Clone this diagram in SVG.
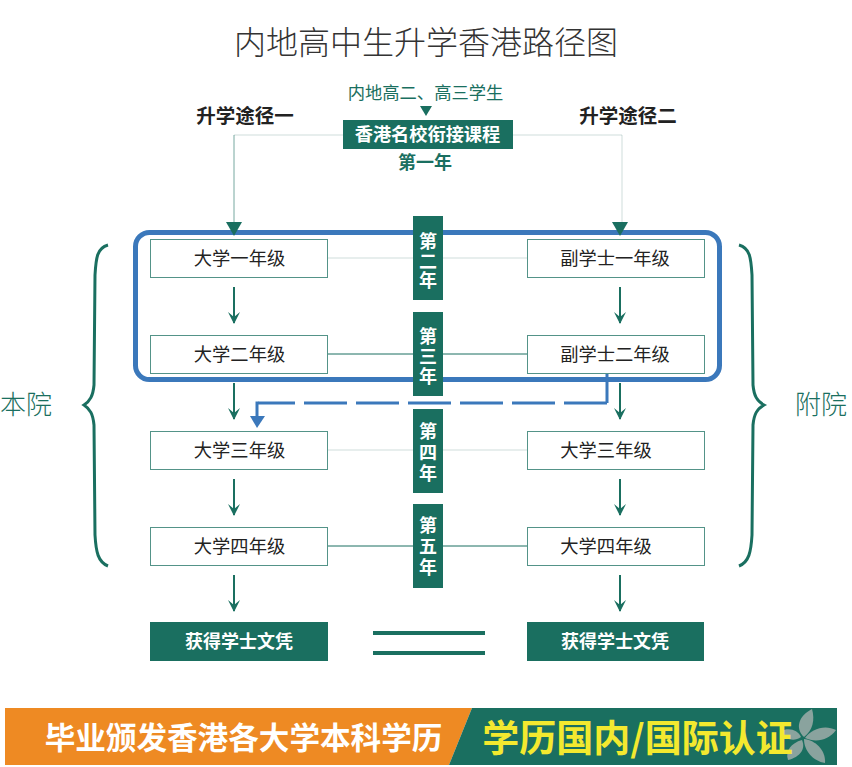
<svg xmlns="http://www.w3.org/2000/svg" width="852" height="767" viewBox="0 0 852 767">
<style>
text{font-family:"Noto Sans CJK SC","Liberation Sans",sans-serif;text-anchor:middle}
.box{fill:#fff;stroke:#1a6f60;stroke-width:1;stroke-opacity:.75}
.lbl{font-size:18.300px;fill:#222}
.fill{fill:#1a6f60}
.w{fill:#fff;font-weight:700}
.yr{font-size:18px}
.g{fill:#1a6f60}
.hd{font-size:19.500px;font-weight:700;fill:#222}
.lt{font-weight:300}
.arr{stroke:#1a6f60;stroke-width:2;fill:none;marker-end:url(#barb)}
.thin{stroke:#1a6f60;stroke-width:1;fill:none}
.pale{stroke:#5f8f86;stroke-width:1;stroke-opacity:.3;fill:none}
.brace{fill:none;stroke:#1a6f60;stroke-width:3}
.petal{fill:#8aa39e}
</style>
<defs>
<marker id="barb" markerUnits="userSpaceOnUse" markerWidth="14" markerHeight="12" refX="13" refY="6" orient="auto" viewBox="0 0 14 12">
<path d="M2 0 L7 6 L2 12 L14 6Z" fill="#1a6f60"/>
</marker>
</defs>
<rect width="852" height="767" fill="#fff"/>
<text x="426" y="54" font-size="32" class="lt" fill="#333">内地高中生升学香港路径图</text>
<g id="connectors">
<path class="pale" d="M343 135H234"/>
<path class="thin" d="M234 135V224" style="stroke-opacity:.6"/>
<path class="pale" d="M513 135H622V224"/>
<path class="pale" d="M328 258H413M443 258H527"/>
<path class="thin" d="M328 354H413M443 354H527"/>
<path class="pale" d="M328 450H413M443 450H527"/>
<path class="thin" d="M328 546H413M443 546H527"/>
<path class="arr" d="M234 287V323"/><path class="arr" d="M234 383V419"/><path class="arr" d="M234 479V515"/><path class="arr" d="M234 575V611"/>
<path class="arr" d="M620 287V323"/><path class="arr" d="M620 383V419"/><path class="arr" d="M620 479V515"/><path class="arr" d="M620 575V611"/>
<path d="M420 106H432L426 116Z" class="fill"/>
<path d="M373 633H485M373 653H485" stroke="#1a6f60" stroke-width="4" fill="none"/>
</g>
<g id="highlight"><rect x="135.500" y="232.500" width="584" height="147" rx="14" fill="none" stroke="#3b78bb" stroke-width="5"/></g>
<g id="arrowheads-top">
<path d="M226 222H242L234 236Z" class="fill"/>
<path d="M612 222H628L620 236Z" class="fill"/>
</g>
<g id="node-left-1"><rect class="box" x="150.500" y="239.500" width="177" height="38"/><text class="lbl" x="239.500" y="265">大学一年级</text></g>
<g id="node-left-2"><rect class="box" x="150.500" y="335.500" width="177" height="38"/><text class="lbl" x="239.500" y="361">大学二年级</text></g>
<g id="node-left-3"><rect class="box" x="150.500" y="431.500" width="177" height="38"/><text class="lbl" x="239.500" y="457">大学三年级</text></g>
<g id="node-left-4"><rect class="box" x="150.500" y="527.500" width="177" height="38"/><text class="lbl" x="239.500" y="553">大学四年级</text></g>
<g id="node-right-1"><rect class="box" x="527.500" y="239.500" width="177" height="38"/><text class="lbl" x="615" y="265">副学士一年级</text></g>
<g id="node-right-2"><rect class="box" x="527.500" y="335.500" width="177" height="38"/><text class="lbl" x="615" y="361">副学士二年级</text></g>
<g id="node-right-3"><rect class="box" x="527.500" y="431.500" width="177" height="38"/><text class="lbl" x="606" y="457">大学三年级</text></g>
<g id="node-right-4"><rect class="box" x="527.500" y="527.500" width="177" height="38"/><text class="lbl" x="606" y="553">大学四年级</text></g>
<g id="node-degree-left"><rect class="fill" x="150" y="622" width="178" height="39"/><text class="w" font-size="18" x="239" y="648">获得学士文凭</text></g>
<g id="node-degree-right"><rect class="fill" x="527" y="622" width="177" height="39"/><text class="w" font-size="18" x="615" y="648">获得学士文凭</text></g>
<g id="node-source"><text class="g" font-size="17.300" x="425.500" y="99">内地高二、高三学生</text></g>
<g id="node-bridge"><rect class="fill" x="343" y="120" width="170" height="29"/><text class="w" font-size="18.200" x="427.500" y="141">香港名校衔接课程</text><text class="g" font-weight="700" font-size="18" x="425" y="169">第一年</text></g>
<g id="route-1"><text class="hd" x="245" y="123">升学途径一</text></g>
<g id="route-2"><text class="hd" x="628" y="123">升学途径二</text></g>
<g id="year-2"><rect class="fill" x="413" y="216" width="30" height="84"/><text class="w yr"><tspan x="428" y="248">第</tspan><tspan x="428" y="268">二</tspan><tspan x="428" y="287">年</tspan></text></g>
<g id="year-3"><rect class="fill" x="413" y="312" width="30" height="84"/><text class="w yr"><tspan x="428" y="343">第</tspan><tspan x="428" y="363">三</tspan><tspan x="428" y="383">年</tspan></text></g>
<g id="year-4"><rect class="fill" x="413" y="409" width="30" height="84"/><text class="w yr"><tspan x="428" y="438">第</tspan><tspan x="428" y="459">四</tspan><tspan x="428" y="480">年</tspan></text></g>
<g id="year-5"><rect class="fill" x="413" y="504" width="30" height="84"/><text class="w yr"><tspan x="428" y="532">第</tspan><tspan x="428" y="553">五</tspan><tspan x="428" y="574">年</tspan></text></g>
<g id="transfer" fill="none" stroke="#3b78bb" stroke-width="3">
<path d="M607 374V403"/>
<path d="M607 403H258" stroke-dasharray="43 9"/>
<path d="M257 401.500V418"/>
<path d="M250 416H265L257 428Z" fill="#3b78bb" stroke="none"/>
</g>
<g id="brace-left"><path class="brace" d="M108 245C97 248 96 258 95 275L94 385C93 396 90 401 84 405C90 409 93 414 94 425L95 535C96 552 98 562 108 566"/><text class="g lt" font-size="26" x="26" y="414">本院</text></g>
<g id="brace-right"><path class="brace" d="M739 245C750 248 751 258 752 275L753 385C754 396 757 401 764 405C757 409 754 414 753 425L752 535C751 552 749 562 739 566"/><text class="g lt" font-size="26" x="821" y="414">附院</text></g>
<g id="banner">
<path d="M5 708H472L449 765H5Z" fill="#ee8a23"/>
<path d="M472 708H837V765H449Z" fill="#1a6f60"/>
<g class="petal">
<path d="M804 737C795 729 798 716 812 709C815 720 813 730 804 737Z"/>
<path d="M805 738C811 729 825 724 836 730C829 740 816 743 805 738Z"/>
<path d="M804 739C815 740 826 750 825 763C813 761 804 751 804 739Z"/>
<path d="M802 740C806 749 800 757 788 760C785 751 791 743 802 740Z"/>
<path d="M801 737C794 742 785 740 781 731C789 727 798 730 801 737Z"/>
</g>
<text class="w" font-size="30.600" x="243.500" y="749">毕业颁发香港各大学本科学历</text>
<text font-weight="700" font-size="37" fill="#f3e92f" x="637.500" y="752">学历国内/国际认证</text>
</g>
</svg>
